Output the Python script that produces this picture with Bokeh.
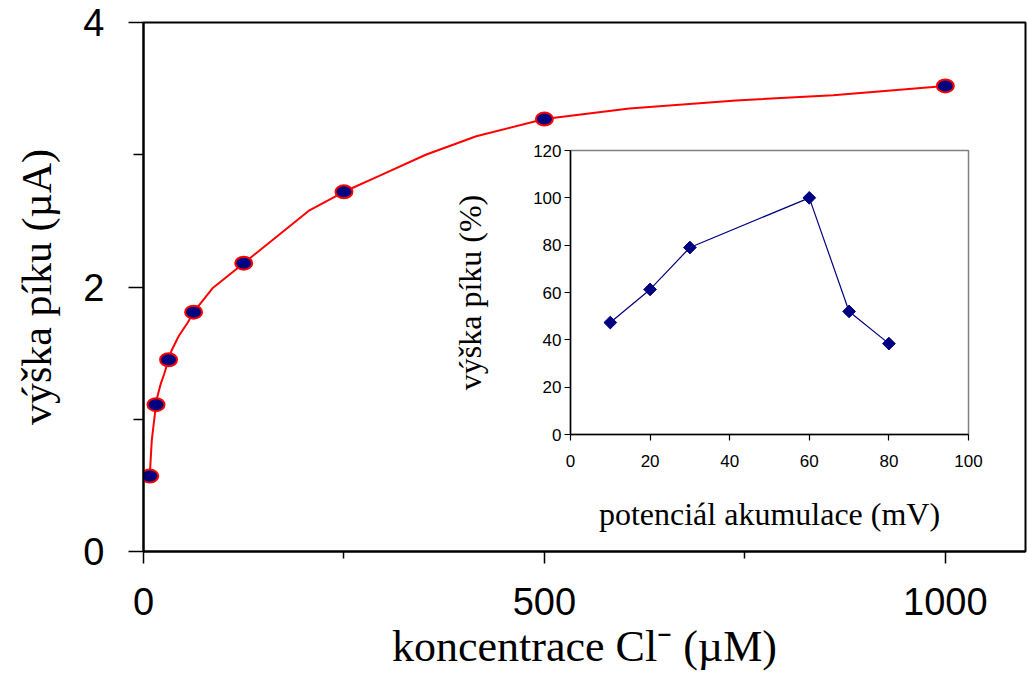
from bokeh.plotting import figure
from bokeh.models import Range1d, FixedTicker, ColumnDataSource
from bokeh.embed import file_html
from bokeh.resources import INLINE
import math

# ---- main chart data ----
conc = [7.8, 15.6, 31.25, 62.5, 125, 250, 500, 1000]
peak = [0.57, 1.11, 1.45, 1.81, 2.18, 2.72, 3.27, 3.52]

# smoothed curve
curve_x = [7.8, 10.3, 15.6, 17.3, 21.6, 25.7, 31.25, 35, 44, 55, 62.5, 86, 125,
           207, 250, 294, 352, 415, 500, 606, 739, 860, 1000]
curve_y = [0.57, 0.84, 1.11, 1.17, 1.27, 1.34, 1.45, 1.52, 1.63, 1.73, 1.81, 1.99, 2.18,
           2.58, 2.72, 2.84, 3.00, 3.14, 3.27, 3.35, 3.41, 3.45, 3.52]

x_major = [0, 500, 1000]
x_minor = [250, 750]
y_major = [0, 2, 4]
y_minor = [1, 3]

# ---- inset data ----
pot = [10, 20, 30, 60, 70, 80]
pct = [47.3, 61.3, 79.0, 100.0, 52.0, 38.4]
ix_ticks = [0, 20, 40, 60, 80, 100]
iy_ticks = [0, 20, 40, 60, 80, 100, 120]

NAVY = "#000080"

p = figure(width=1027, height=674, x_range=Range1d(0, 1100), y_range=Range1d(0, 4),
           output_backend="svg", toolbar_location=None,
           min_border_left=143, min_border_right=2, min_border_top=22, min_border_bottom=123)
p.xgrid.visible = False
p.ygrid.visible = False
p.outline_line_color = "black"
p.outline_line_width = 2
p.outline_line_alpha = 1
p.background_fill_color = "white"
p.border_fill_color = "white"

p.xaxis.ticker = FixedTicker(ticks=x_major, minor_ticks=x_minor)
p.yaxis.ticker = FixedTicker(ticks=y_major, minor_ticks=y_minor)
for ax in (p.xaxis, p.yaxis):
    ax.axis_line_color = "black"
    ax.axis_line_width = 2
    ax.major_tick_in = 0
    ax.minor_tick_in = 0
    ax.major_tick_line_color = "black"
    ax.minor_tick_line_color = "black"
    ax.major_tick_line_width = 1.5
    ax.minor_tick_line_width = 1.5
    ax.major_label_text_font = "Liberation Sans"
    ax.major_label_text_font_size = "38px"
    ax.major_label_text_color = "black"
    ax.axis_label_text_font = "Liberation Serif"
    ax.axis_label_text_font_style = "normal"
    ax.axis_label_text_color = "black"
p.xaxis.major_tick_out = 12
p.xaxis.minor_tick_out = 7
p.yaxis.major_tick_out = 15
p.yaxis.minor_tick_out = 10
p.xaxis.major_label_standoff = 24
p.yaxis.major_label_standoff = 24
p.xaxis.axis_label = "koncentrace Cl⁻ (µM)"
p.yaxis.axis_label = "výška píku (µA)"
p.xaxis.axis_label_text_font_size = "44px"
p.yaxis.axis_label_text_font_size = "42px"
p.xaxis.axis_label_standoff = 4
p.yaxis.axis_label_standoff = 20

p.line(curve_x, curve_y, line_color="red", line_width=2)
p.ellipse(conc, peak, width=17, height=13, width_units="screen", height_units="screen",
          fill_color=NAVY, line_color="red", line_width=2)

# ---- inset ----
q = figure(frame_width=398, frame_height=284, x_range=Range1d(0, 100), y_range=Range1d(0, 120),
           output_backend="svg", toolbar_location=None,
           min_border_left=130, min_border_right=20, min_border_top=15, min_border_bottom=100,
           styles={"position": "absolute", "left": "440px", "top": "135px"})
q.xgrid.visible = False
q.ygrid.visible = False
q.background_fill_alpha = 0
q.border_fill_alpha = 0
q.outline_line_color = "#808080"
q.outline_line_width = 1.5
q.xaxis.ticker = FixedTicker(ticks=ix_ticks, minor_ticks=[])
q.yaxis.ticker = FixedTicker(ticks=iy_ticks, minor_ticks=[])
for ax in (q.xaxis, q.yaxis):
    ax.axis_line_color = "black"
    ax.axis_line_width = 1.5
    ax.major_tick_in = 0
    ax.major_tick_out = 6
    ax.minor_tick_in = 0
    ax.minor_tick_out = 0
    ax.major_tick_line_color = "black"
    ax.major_tick_line_width = 1.2
    ax.major_label_text_font = "Liberation Sans"
    ax.major_label_text_font_size = "17px"
    ax.major_label_text_color = "black"
    ax.axis_label_text_font = "Liberation Serif"
    ax.axis_label_text_font_style = "normal"
    ax.axis_label_text_font_size = "32px"
    ax.axis_label_text_color = "black"
q.xaxis.major_label_standoff = 14
q.yaxis.major_label_standoff = 3
q.xaxis.axis_label = "potenciál akumulace (mV)"
q.yaxis.axis_label = "výška píku (%)"
q.xaxis.axis_label_standoff = 26
q.yaxis.axis_label_standoff = 42

q.line(pot, pct, line_color=NAVY, line_width=1.2)
q.scatter(pot, pct, marker="square", size=9, angle=math.pi / 4,
          fill_color=NAVY, line_color=NAVY)

# two separate roots so their frames are not aligned to each other
open("out.html", "w").write(file_html([p, q], INLINE))
